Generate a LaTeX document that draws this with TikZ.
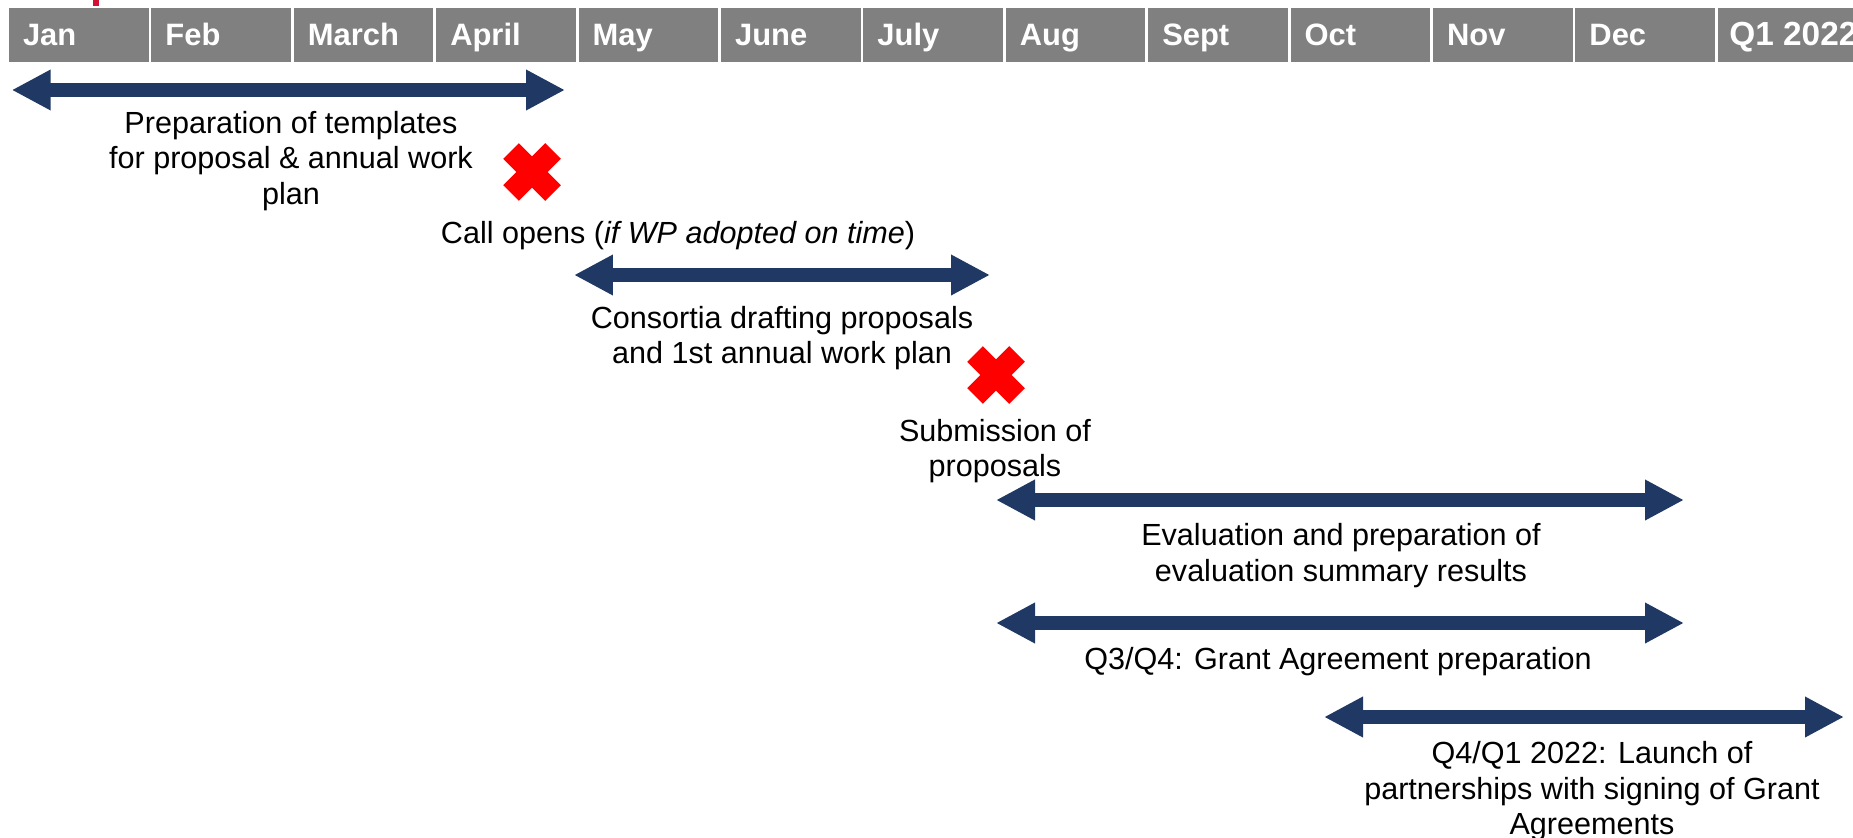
\documentclass[tikz,border=0pt]{standalone}
\usepackage{fontspec}
\setmainfont{Liberation Sans}
\usetikzlibrary{arrows.meta}

\definecolor{navy}{RGB}{32,56,100}
\definecolor{headgray}{RGB}{128,128,128}
\definecolor{xred}{RGB}{255,0,0}
\definecolor{titlered}{RGB}{210,16,52}

\tikzset{
  monthcell/.style={fill=headgray},
  monthlabel/.style={text=white,font=\bfseries\fontsize{17.6}{20}\selectfont,inner sep=0pt,anchor=base west},
  phase/.style={draw=navy,line width=2.8mm,{Triangle[length=7.8mm,width=7.6mm]}-{Triangle[length=7.8mm,width=7.6mm]}},
  note/.style={align=center,font=\fontsize{17.4}{20.2}\selectfont,inner sep=0pt},
  xmark/.pic={\draw[xred,line width=4.4mm] (-21,-21) -- (21,21) (-21,21) -- (21,-21);},
}

\begin{document}
\begin{tikzpicture}[x=0.02cm,y=-0.02cm]
  \useasboundingbox (0,0) rectangle (1853,838);
  \clip (0,0) rectangle (1853,838);

  % cut-off title
  \fill[titlered] (92.5,0) rectangle (98.5,6);

  % months
  \foreach \m [count=\i from 0] in {Jan,Feb,March,April,May,June,July,Aug,Sept,Oct,Nov,Dec} {
    \fill[monthcell] (9+142.4*\i,8) rectangle ++(139.6,54);
    \node[monthlabel] (mon\i) at (22.7+142.4*\i,45.7) {\m};
  }
  \fill[monthcell] (1717.8,8) rectangle (1860,62);
  \node[monthlabel,font=\bfseries\fontsize{19}{22}\selectfont] (q1) at (1729,45.7) {Q1 2022};

  % phases
  \coordinate (prepL) at (11.7,90);   \coordinate (prepR) at (565,90);
  \coordinate (draftL) at (574,275);  \coordinate (draftR) at (990,275);
  \coordinate (evalL) at (996,500);   \coordinate (evalR) at (1684,500);
  \coordinate (grantL) at (996,623);  \coordinate (grantR) at (1684,623);
  \coordinate (launchL) at (1324,717); \coordinate (launchR) at (1844,717);

  \draw[phase] (prepL) -- (prepR);
  \draw[phase] (draftL) -- (draftR);
  \draw[phase] (evalL) -- (evalR);
  \draw[phase] (grantL) -- (grantR);
  \draw[phase] (launchL) -- (launchR);

  % milestones
  \coordinate (open) at (532,172);
  \coordinate (submit) at (996,375);
  \pic at (open) {xmark};
  \pic at (submit) {xmark};

  \node[note] (prep) at (291,161) {Preparation of templates\\for proposal \& annual work\\plan};
  \node[note] (call) at (678,235.5) {Call opens (\textit{if WP adopted on time})};
  \node[note] (draft) at (782,338) {Consortia drafting proposals\\and 1st annual work plan};
  \node[note] (sub) at (995,451) {Submission of\\proposals};
  \node[note] (eval) at (1341,555.5) {Evaluation and preparation of\\evaluation summary results};
  \node[note] (grant) at (1338,661.5) {Q3/Q4: Grant Agreement preparation};
  \node[note] (launch) at (1592,791.5) {Q4/Q1 2022: Launch of\\partnerships with signing of Grant\\Agreements};
\end{tikzpicture}
\end{document}
